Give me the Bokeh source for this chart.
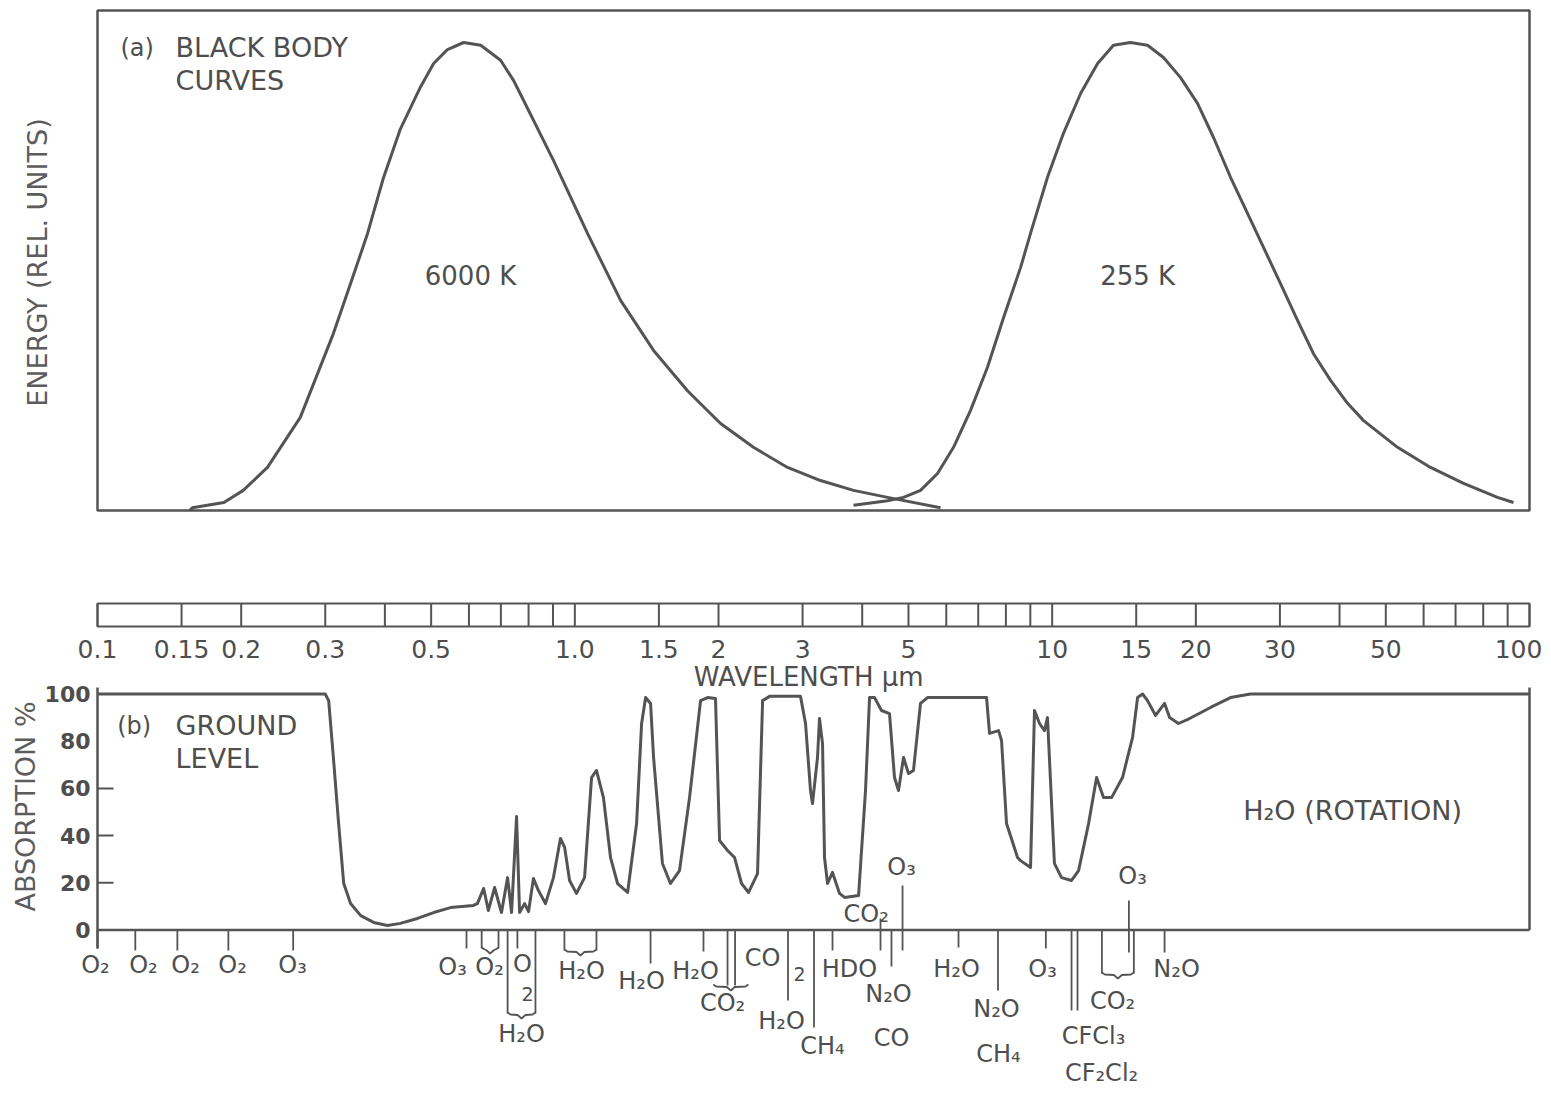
import math
from bokeh.plotting import figure
from bokeh.layouts import column
from bokeh.models import Range1d
from bokeh.core.properties import value
from bokeh.embed import file_html
from bokeh.resources import INLINE

# ---------------- data ----------------
# (a) black body curves, relative energy (peak = 1)
bb6000_wavelength = [0.156, 0.158, 0.184, 0.202, 0.227, 0.266, 0.312, 0.339, 0.368, 0.397,
                     0.431, 0.475, 0.506, 0.541, 0.585, 0.635, 0.699, 0.744, 0.769, 0.902,
                     1.063, 1.247, 1.462, 1.722, 2.02, 2.367, 2.79, 3.271, 3.836, 4.519, 5.835]
bb6000_energy = [0.0, 0.006, 0.017, 0.043, 0.092, 0.199, 0.378, 0.485, 0.592, 0.71,
                 0.815, 0.905, 0.955, 0.985, 1.0, 0.994, 0.962, 0.919, 0.89, 0.748,
                 0.592, 0.449, 0.342, 0.256, 0.186, 0.135, 0.092, 0.064, 0.043, 0.028, 0.006]
bb255_wavelength = [3.836, 4.519, 4.882, 5.299, 5.752, 6.214, 6.745, 7.32, 7.908, 8.585,
                    9.009, 9.777, 10.56, 11.47, 12.45, 13.44, 14.59, 15.84, 17.11, 18.58,
                    20.16, 21.78, 23.64, 25.66, 27.72, 30.09, 32.66, 35.27, 38.31, 41.57,
                    44.92, 52.91, 62.04, 72.75, 85.7, 92.57]
bb255_energy = [0.011, 0.021, 0.028, 0.043, 0.079, 0.135, 0.214, 0.306, 0.412, 0.519,
                0.592, 0.712, 0.806, 0.891, 0.955, 0.994, 1.0, 0.994, 0.968, 0.925,
                0.87, 0.797, 0.712, 0.635, 0.562, 0.485, 0.406, 0.335, 0.278, 0.229,
                0.192, 0.135, 0.092, 0.058, 0.028, 0.017]

# (b) ground level absorption (%)
absorption_wavelength = [0.1, 0.300, 0.305, 0.312, 0.320, 0.328, 0.339, 0.356, 0.379, 0.405,
                         0.431, 0.468, 0.506, 0.549, 0.613, 0.625, 0.644, 0.659, 0.679, 0.702,
                         0.723, 0.737, 0.755, 0.766, 0.785, 0.800, 0.819, 0.839, 0.868, 0.902,
                         0.933, 0.952, 0.975, 1.008, 1.048, 1.084, 1.110, 1.148, 1.188, 1.229,
                         1.290, 1.347, 1.380, 1.407, 1.441, 1.462, 1.526, 1.586, 1.657, 1.739,
                         1.834, 1.897, 1.971, 2.010, 2.089, 2.161, 2.235, 2.312, 2.414, 2.474,
                         2.558, 2.970, 3.043, 3.117, 3.147, 3.224, 3.255, 3.303, 3.335, 3.384,
                         3.466, 3.585, 3.673, 3.930, 4.064, 4.144, 4.244, 4.390, 4.563, 4.674,
                         4.765, 4.882, 5.001, 5.122, 5.299, 5.481, 7.287, 7.393, 7.721, 7.833,
                         8.024, 8.462, 8.585, 9.009, 9.183, 9.408, 9.636, 9.777, 10.11, 10.46,
                         10.98, 11.36, 11.92, 12.39, 12.81, 13.32, 14.04, 14.74, 15.10, 15.47,
                         15.84, 16.47, 17.20, 17.62, 18.39, 19.40, 21.47, 23.64, 26.03, 100]
absorption_percent = [100, 100, 97.2, 73.1, 45.1, 19.7, 11.2, 6.1, 3.2, 1.9,
                      2.8, 4.9, 7.4, 9.5, 10.4, 11.2, 17.6, 8.3, 18.0, 7.4,
                      22.2, 7.4, 48.1, 7.4, 11.2, 7.8, 21.8, 16.7, 11.2, 22.2,
                      38.8, 35.0, 21.0, 15.5, 22.2, 64.6, 67.6, 56.1, 30.7, 19.7,
                      15.9, 45.1, 87.5, 98.5, 96.0, 73.1, 28.2, 19.7, 25.2, 56.1,
                      97.2, 98.5, 98.1, 37.9, 33.7, 30.7, 19.7, 15.9, 23.9, 97.2,
                      99.0, 99.0, 87.5, 59.1, 53.6, 73.1, 89.6, 79.0, 30.7, 19.7,
                      24.4, 15.5, 13.8, 14.6, 59.1, 98.5, 98.5, 93.0, 91.7, 64.6,
                      59.1, 73.1, 66.3, 67.6, 96.0, 98.5, 98.5, 83.3, 84.5, 80.3,
                      45.1, 30.7, 29.4, 26.5, 93.0, 87.5, 84.5, 90.0, 28.2, 22.2,
                      21.0, 25.2, 45.1, 64.6, 56.1, 56.1, 64.6, 81.6, 98.5, 100,
                      97.2, 90.9, 96.0, 90.0, 87.5, 89.6, 94.3, 98.5, 100, 100]
absorption_ticks = [0, 20, 40, 60, 80, 100]
absorption_tick_labels = ["0", "20", "40", "60", "80", "100"]
absorption_inner_ticks = [20, 40, 60]

# wavelength scale (um)
scale_ruler = [0.1, 0.15, 0.2, 0.3, 0.4, 0.5, 0.6, 0.7, 0.8, 0.9, 1.0, 1.5, 2, 3, 4, 5, 6, 7, 8, 9,
               10, 15, 20, 30, 40, 50, 60, 70, 80, 90, 100]
scale_values = [0.1, 0.15, 0.2, 0.3, 0.5, 1.0, 1.5, 2, 3, 5, 10, 15, 20, 30, 50, 100]
scale_labels = ["0.1", "0.15", "0.2", "0.3", "0.5", "1.0", "1.5", "2", "3", "5",
                "10", "15", "20", "30", "50", "100"]

# absorbing gases: band wavelengths (um) marked under the axis
band_wavelength = [0.1, 0.120, 0.147, 0.188, 0.257, 0.593, 0.638, 0.692, 0.723, 0.758,
                   0.827, 0.951, 1.110, 1.441, 1.860, 2.089, 2.166, 2.796, 3.170, 3.466,
                   4.369, 4.606, 4.859, 6.365, 7.70, 9.70, 10.98, 11.30, 12.71, 14.48,
                   14.83, 17.20]
# bands whose marker also rises above the axis (CO2 4.3, O3 4.8, O3 14)
band_up_wavelength = [4.369, 4.859, 14.48]
# bracketed groups (low, high)
brace_low = [0.638, 0.723, 0.951, 1.95, 12.71]
brace_high = [0.692, 0.827, 1.110, 2.31, 14.83]

gas_labels = ["O₂", "O₂", "O₂", "O₂", "O₃", "O₃", "O₂", "O", "H₂O", "H₂O",
              "H₂O", "H₂O", "CO₂", "CO", "H₂O", "CH₄", "HDO", "N₂O", "CO", "H₂O",
              "N₂O", "CH₄", "O₃", "CFCl₃", "CF₂Cl₂", "CO₂", "N₂O"]
gas_label_wavelength = [0.099, 0.1248, 0.1529, 0.1918, 0.2562, 0.5543, 0.6626, 0.777, 0.7732, 1.033,
                        1.380, 1.790, 2.039, 2.474, 2.710, 3.303, 3.762, 4.540, 4.607, 6.304,
                        7.642, 7.716, 9.546, 12.21, 12.69, 13.38, 18.22]
gas_split_labels = ["2", "2"]
gas_split_wavelength = [0.796, 2.956]
gas_upper_labels = ["O₃", "O₃", "CO₂"]
gas_upper_wavelength = [4.836, 14.74, 3.655]

# ---------------- layout (page pixels) ----------------
FONT = "DejaVu Sans"
INK = "#545454"
TXT = "#4e4e4e"
AXT = "#5c5c5c"
W = 1548
X_01 = 97                 # page x of 0.1 um
PX_DEC = 1432 / 3.0       # pixels per decade

band_tick_end = [948, 950, 950, 950, 950, 948, 948, 948, 1013, 948,
                 1013, 950, 950, 963, 951, 985, 985, 1000, 1027, 950,
                 950, 966, 950, 947, 990, 948, 1010, 1010, 973, 952,
                 973, 952]
band_up_top = [918, 885, 900]
brace_y = [948, 1013, 950, 985, 973]
gas_label_y = [964, 964, 964, 964, 964, 966, 966, 963, 1033, 970,
               980, 970, 1002, 957, 1020, 1045, 968, 993, 1037, 968,
               1008, 1053, 968, 1035, 1072, 1000, 968]
gas_split_y = [993, 973]
gas_upper_y = [866, 875, 913]
gas_upper_align = ["center", "center", "left"]


def lam2px(l):
    return math.log10(l / 0.1) * PX_DEC


def px2lam(px):
    return 0.1 * 10 ** (px / PX_DEC)


def a_of(ypage):      # page y -> absorption-panel data value
    return (929.5 - ypage) / 2.36


def e_of(ypage):      # page y -> energy-panel data value
    return (510 - ypage) / 468


def xr():
    return Range1d(px2lam(0 - X_01), px2lam(W - X_01))


def panel(height, y_range):
    p = figure(width=W, height=height, x_range=xr(), y_range=y_range, x_axis_type="log",
               x_axis_location=None, y_axis_location=None, toolbar_location=None,
               output_backend="svg", min_border=0)
    p.grid.visible = False
    p.background_fill_color = "white"
    p.border_fill_color = "white"
    p.outline_line_color = None
    return p


def txt(p, xs, ys, texts, size, align="center", style="normal", color=TXT, x_offset=0, angle=0.0):
    p.text(x=list(xs), y=list(ys), text=list(texts), x_offset=x_offset, angle=angle,
           text_font=value(FONT), text_font_size=value(size), text_align=align,
           text_baseline="middle", text_color=color, text_font_style=style)


# ---------------- (a) black body panel ----------------
pa = panel(513, Range1d(e_of(513), e_of(0)))
pa.quad(left=[0.1], right=[100], bottom=[0], top=[e_of(10)], fill_color=None,
        line_color=INK, line_width=2.5)
pa.line(bb6000_wavelength, bb6000_energy, line_color=INK, line_width=3, line_join="round")
pa.line(bb255_wavelength, bb255_energy, line_color=INK, line_width=3, line_join="round")
txt(pa, [0.1117], [e_of(47)], ["(a)"], "24px", align="left")
txt(pa, [0.1457, 0.1457], [e_of(47), e_of(80)], ["BLACK BODY", "CURVES"], "27px", align="left")
txt(pa, [0.6046, 15.10], [e_of(275)] * 2, ["6000 K", "255 K"], "26px")
txt(pa, [px2lam(37 - X_01)], [e_of(262)], ["ENERGY (REL. UNITS)"], "27px",
    color=AXT, angle=math.pi / 2)

# ---------------- wavelength scale + (b) absorption panel ----------------
pc = panel(572, Range1d(a_of(1085), a_of(513)))

# ruler
pc.quad(left=[scale_ruler[0]], right=[scale_ruler[-1]], top=[a_of(603)], bottom=[a_of(626)],
        fill_color=None, line_color=INK, line_width=2)
pc.segment(x0=scale_ruler, y0=[a_of(603)] * len(scale_ruler), x1=scale_ruler,
           y1=[a_of(626)] * len(scale_ruler), line_color=INK, line_width=2)
offs = [-11 if s == "100" else 0 for s in scale_labels]
txt(pc, scale_values, [a_of(648)] * len(scale_values), scale_labels, "25px", x_offset=offs)
txt(pc, [3.09], [a_of(676)], ["WAVELENGTH µm"], "26px")

# frame lines of panel (b)
pc.segment(x0=[0.1, 100, 0.1], y0=[a_of(687), a_of(687), 0], x1=[0.1, 100, 100],
           y1=[a_of(948), 0, 0], line_color=INK, line_width=2.5)
tick_end = px2lam(16)
pc.segment(x0=[0.1] * 3, y0=absorption_inner_ticks, x1=[tick_end] * 3, y1=absorption_inner_ticks,
           line_color=INK, line_width=2)
pc.line(absorption_wavelength, absorption_percent, line_color=INK, line_width=3, line_join="round")
txt(pc, [px2lam(90 - X_01)] * len(absorption_ticks), absorption_ticks, absorption_tick_labels,
    "22px", align="right", style="bold")
txt(pc, [px2lam(25 - X_01)], [a_of(806)], ["ABSORPTION %"], "27px", color=AXT, angle=math.pi / 2)

# gas band markers
pc.segment(x0=band_wavelength, y0=[0] * len(band_wavelength), x1=band_wavelength,
           y1=[a_of(v) for v in band_tick_end], line_color=INK, line_width=1.8)
pc.segment(x0=band_up_wavelength, y0=[a_of(v) for v in band_up_top], x1=band_up_wavelength,
           y1=[0] * 3, line_color=INK, line_width=1.8)
bxs, bys = [], []
for lo, hi, yb in zip(brace_low, brace_high, brace_y):
    a, b = lam2px(lo), lam2px(hi)
    c = (a + b) / 2
    pts = [(a, yb - 1), (a + 3, yb + 1), (c - 4, yb + 1.5), (c, yb + 5),
           (c + 4, yb + 1.5), (b - 3, yb + 1), (b, yb - 1)]
    bxs.append([px2lam(u) for u, v in pts])
    bys.append([a_of(v) for u, v in pts])
pc.multi_line(bxs, bys, line_color=INK, line_width=1.8)

txt(pc, [0.110], [a_of(725)], ["(b)"], "24px", align="left")
txt(pc, [0.1457, 0.1457], [a_of(725), a_of(758)], ["GROUND", "LEVEL"], "27px", align="left")
txt(pc, [42.6], [a_of(810)], ["H₂O (ROTATION)"], "27px")
for lab, wl, yy, al in zip(gas_upper_labels, gas_upper_wavelength, gas_upper_y, gas_upper_align):
    txt(pc, [wl], [a_of(yy)], [lab], "24px", align=al)
txt(pc, gas_label_wavelength, [a_of(v) for v in gas_label_y], gas_labels, "24px")
txt(pc, gas_split_wavelength, [a_of(v) for v in gas_split_y], gas_split_labels, "19px")

layout = column(pa, pc, spacing=0)
open("out.html", "w").write(file_html(layout, INLINE))
